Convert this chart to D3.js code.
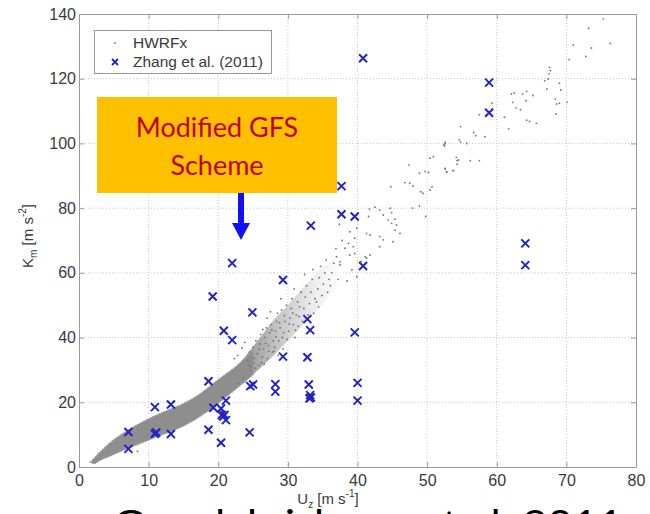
<!DOCTYPE html>
<html><head><meta charset="utf-8">
<script src="https://cdn.jsdelivr.net/npm/d3@7"></script>
<style>
html,body{margin:0;padding:0;background:#fff;}
svg{display:block;}
</style></head>
<body>
<svg id="chart" width="650" height="514"></svg>
<script>
// ---------- data ----------
const xTicks = [0,10,20,30,40,50,60,70,80];
const yTicks = [0,20,40,60,80,100,120,140];
const legendLabels = ["HWRFx","Zhang et al. (2011)"];
const calloutLines = ["Modified GFS","Scheme"];
const citation = "Gopalakrishnan et al. 2011";

// HWRFx dense (solid) cloud: envelope (U_z, lower K_m, upper K_m)
const bandU  = [1.6, 2.2, 3.0, 4.5, 6.0, 7.8, 9.7, 11.5, 13.5, 15.5, 17.5, 19.5, 21.0, 22.5, 24.0, 25.0];
const bandLo = [1.5, 1.0, 2.0, 3.4, 4.8, 6.4, 8.0, 9.6, 11.2, 13.2, 15.8, 18.8, 21.4, 24.0, 26.8, 28.5];
const bandHi = [1.5, 2.8, 4.6, 7.6, 10.0, 12.4, 14.6, 16.4, 18.2, 20.2, 22.8, 26.2, 28.6, 31.0, 34.0, 36.0];

// HWRFx speckled (thinning) part of the cloud: envelope
const speckU  = [23.5, 26.0, 28.0, 30.0, 32.0, 34.0, 36.0, 38.0];
const speckLo = [25.5, 30.5, 34.5, 39.0, 43.5, 48.0, 53.0, 58.0];
const speckHi = [33.0, 40.0, 45.5, 50.0, 55.0, 59.5, 63.5, 67.0];

// HWRFx scattered points [U_z, K_m]
const hwrfPoints = [
 [8.4,4.9],
 [22.3,33.5],[22.8,34.5],[23.4,36.8],[23.8,38.5],[24.2,33],[24.5,35.5],[24.8,31],[25.0,37],[25.2,33.5],[25.4,39],[25.6,35],[25.8,31.5],[26.0,38],[26.1,41],[25.3,30.5],[24.7,29.5],[23.6,27.5],[22.9,25.8],
 [26.3,34],[26.5,36.5],[26.7,40],[26.9,43],[27.1,33.5],[27.2,37.5],[27.4,41.5],[27.6,44],[27.8,35.5],[27.9,39],[26.4,42.5],[27.0,46],[26.6,31.8],[27.5,48],
 [26.2,32.2],[26.8,38.2],[27.3,35.8],[27.7,42.3],[25.9,36.4],[25.1,32.1],[24.4,31.3],[24.9,33.8],
 [28.1,37],[28.2,42],[28.4,45],[28.5,47.5],[28.7,39],[28.9,43],[29.1,48.5],[29.3,36.5],[29.4,41.5],[29.6,45],[29.8,50],[29.9,39.5],[28.6,34.5],[29.0,52],
 [28.3,40.2],[28.8,44.6],[29.2,40.0],[29.5,46.8],[28.0,35.8],
 [30.1,42],[30.3,46],[30.5,49],[30.6,52],[30.8,44],[31.0,40],[31.2,47],[31.4,51],[31.5,43.5],[31.7,49.5],[31.9,54],[30.9,55],
 [30.2,44.2],[30.7,47.6],[31.1,42.3],[31.6,46.5],
 [32.1,45],[32.3,49],[32.5,52.5],[32.7,56],[32.9,47],[33.1,50.5],[33.3,54],[33.5,58],[33.7,47.5],[33.9,52],[32.4,59.5],[33.6,61],
 [34.1,51],[34.3,55],[34.5,58.5],[34.7,62],[34.9,53],[35.1,56.5],[35.3,60],[35.5,64],[35.7,54],[35.9,58],[34.4,49.5],
 [36.1,56],[36.3,60],[36.6,63],[36.9,67.5],[37.2,58],[37.5,62.5],[37.8,70],[37.4,75],[37.0,65.0],[37.5,63.4],
 [39.9,58.8],[39.2,60.9],[38.5,57.5],[40.5,63.5],
 [41.7,79.7],[42.5,80.3],[43.2,79.4],[43.7,77.9],[44.7,80.0],[44.9,78.6],[44.4,76.3],[45.4,76.6],[45.6,74.8],[45.4,73.2],[46.1,72.2],[45.1,69.6],[43.2,71.2],[43.7,70.2],[41.8,71.7],[41.3,72.2],[43.2,68.1],[39.9,73.8],[39.6,70.7],[38.9,72.7],[38.7,69.1],[39.4,68.1],[38.2,67.6],[41.8,65.5],[41.3,64.5],[38.9,65.5],[39.6,66.0],[41.1,65.0],[41.6,77.4],[44.9,75.3],
 [47.9,80.0],[48.9,80.7],[49.8,77.4],[44.8,86.6],[46.8,87.9],[47.5,87.7],[48.0,86.8],[49.1,85.1],[49.4,84.6],[50.4,85.6],[50.7,86.6],[47.4,93.3],[48.9,90.8],[49.7,91.3],[50.2,91.0],[50.4,95.4],[50.9,95.9],[52.6,92.3],[52.8,91.3],[53.8,91.6],[52.6,100.0],[52.5,99.2],[54.5,94.9],
 [75.3,138.5],[73.2,135.6],[76.3,130.9],[71.0,130.4],[73.6,129.5],[70.4,125.9],[72.8,126.9],[67.6,123.5],[67.7,122.5],[67.5,121.5],[67.4,119.9],[66.9,119.4],[67.2,116.8],[69.0,118.6],[69.2,116.5],[68.4,113.7],[68.6,112.2],[69.0,112.4],[70.1,112.7],[68.5,109.1],
 [62.1,115.3],[62.5,115.6],[63.7,115.3],[64.3,116.1],[65.2,114.8],[64.2,113.2],[62.3,112.7],[62.8,111.0],[63.4,110.4],[61.1,108.1],[64.3,107.2],[64.7,106.8],[65.7,106.2],[61.7,104.5],[59.3,112.4],[59.3,110.6],[57.5,108.9],[58.3,102.1],[56.7,103.4],[57.0,102.4],
 [54.8,105.2],[54.6,101.1],[54.8,100.4],[55.7,100.0],[52.6,100.4],[52.4,99.6],[54.2,95.7],[54.3,94.7],[54.3,93.6],[56.2,94.7],[57.5,94.7],[52.6,92.1],[52.8,91.1],[53.7,91.6]
];

// Zhang et al. (2011) observations
const zhangU = [7.1, 7.1, 10.9, 10.9, 11.1, 13.2, 13.2, 18.6, 18.6, 19.2, 19.3, 20.4, 20.4, 20.5, 20.7, 20.9, 21.1, 21.1, 20.8, 22.0, 22.0, 24.5, 24.6, 25.0, 24.9, 28.2, 28.2, 29.3, 29.3, 32.8, 33.2, 32.8, 33.0, 33.2, 33.1, 33.3, 33.3, 37.7, 37.7, 39.6, 39.6, 40.0, 40.0, 40.8, 40.8, 58.9, 58.9, 64.1, 64.1];
const zhangK = [10.8, 5.6, 18.5, 10.3, 10.7, 19.3, 10.2, 26.5, 11.5, 52.7, 18.3, 7.5, 18.1, 16.1, 15.6, 16.1, 14.5, 20.5, 42.1, 39.2, 63.0, 10.7, 25.0, 25.5, 47.8, 25.6, 23.3, 34.1, 57.8, 45.7, 42.3, 33.9, 25.5, 22.2, 21.2, 21.5, 74.6, 86.8, 78.1, 77.4, 41.6, 26.0, 20.5, 126.3, 62.1, 118.8, 109.5, 69.1, 62.4];

// ---------- drawing ----------
const svg = d3.select("#chart");
const L = 79, R = 636, T = 14, B = 467;
const x = d3.scaleLinear().domain([0,80]).range([L,R]);
const y = d3.scaleLinear().domain([0,140]).range([B,T]);
const font = "'Liberation Sans', Arial, sans-serif";
const axisCol = "#9a9a9a";
const textCol = "#3a3a3a";

// gradient for the thinning part of the cloud
const defs = svg.append("defs");
const grad = defs.append("linearGradient").attr("id", "fade")
  .attr("gradientUnits", "userSpaceOnUse")
  .attr("x1", x(23.5)).attr("x2", x(38)).attr("y1", 0).attr("y2", 0);
grad.append("stop").attr("offset", 0).attr("stop-color", "#949494");
grad.append("stop").attr("offset", 0.35).attr("stop-color", "#c4c4c4");
grad.append("stop").attr("offset", 0.7).attr("stop-color", "#ececec");
grad.append("stop").attr("offset", 1).attr("stop-color", "#ffffff");

// grid
const grid = svg.append("g");
grid.selectAll("line.gx").data(xTicks.slice(1,-1)).join("line")
  .attr("x1", d=>x(d)).attr("x2", d=>x(d)).attr("y1", T).attr("y2", B)
  .attr("stroke", "#c8c8c8").attr("stroke-width", 1).attr("stroke-dasharray", "1,2");
grid.selectAll("line.gy").data(yTicks.slice(1,-1)).join("line")
  .attr("y1", d=>y(d)).attr("y2", d=>y(d)).attr("x1", L).attr("x2", R)
  .attr("stroke", "#c8c8c8").attr("stroke-width", 1).attr("stroke-dasharray", "1,2");

// HWRFx thinning cloud
const speck = speckU.map((u,i)=>({u, lo: speckLo[i], hi: speckHi[i]}));
svg.append("path").datum(speck)
  .attr("d", d3.area().x(d=>x(d.u)).y0(d=>y(d.lo)).y1(d=>y(d.hi)).curve(d3.curveCatmullRom))
  .attr("fill", "url(#fade)");

// HWRFx dense cloud
const band = bandU.map((u,i)=>({u, lo: bandLo[i], hi: bandHi[i]}));
svg.append("path").datum(band)
  .attr("d", d3.area().x(d=>x(d.u)).y0(d=>y(d.lo)).y1(d=>y(d.hi)).curve(d3.curveCatmullRom))
  .attr("fill", "#8e8e8e").attr("stroke", "#a0a0a0").attr("stroke-width", 1.2)
  .attr("stroke-dasharray", "1.5,1");

// HWRFx scattered points
svg.append("g").selectAll("circle").data(hwrfPoints).join("circle")
  .attr("cx", d=>x(d[0])).attr("cy", d=>y(d[1])).attr("r", 0.95)
  .attr("fill", "#7a7a7a");

// axes (MATLAB-style inward ticks)
function styleAxis(g){
  g.select(".domain").attr("stroke", axisCol);
  g.selectAll(".tick line").attr("stroke", axisCol);
  g.selectAll(".tick text").attr("fill", textCol).attr("font-family", font).attr("font-size", 16);
}
svg.append("g").attr("transform", `translate(0,${B})`)
  .call(d3.axisBottom(x).tickValues(xTicks).tickSizeInner(-5).tickSizeOuter(0).tickPadding(8).tickFormat(d3.format("d")))
  .call(styleAxis);
svg.append("g").attr("transform", `translate(${L},0)`)
  .call(d3.axisLeft(y).tickValues(yTicks).tickSizeInner(-5).tickSizeOuter(0).tickPadding(3).tickFormat(d3.format("d")))
  .call(styleAxis);
svg.append("g").attr("transform", `translate(0,${T})`)
  .call(d3.axisTop(x).tickValues(xTicks).tickSizeInner(-5).tickSizeOuter(0).tickFormat(""))
  .call(styleAxis);
svg.append("g").attr("transform", `translate(${R},0)`)
  .call(d3.axisRight(y).tickValues(yTicks).tickSizeInner(-5).tickSizeOuter(0).tickFormat(""))
  .call(styleAxis);

// Zhang crosses
const cs = 4;
const zg = svg.append("g");
zhangU.forEach((u,i)=>{
  const cx = x(u), cy = y(zhangK[i]);
  zg.append("path")
    .attr("d", `M${cx-cs},${cy-cs}L${cx+cs},${cy+cs}M${cx-cs},${cy+cs}L${cx+cs},${cy-cs}`)
    .attr("stroke", "#2323c4").attr("stroke-width", 2).attr("fill", "none");
});

// legend
const lg = svg.append("g");
lg.append("rect").attr("x", 94.5).attr("y", 30.5).attr("width", 177).attr("height", 43)
  .attr("fill", "#fff").attr("stroke", "#999").attr("stroke-width", 1);
lg.append("circle").attr("cx", 115).attr("cy", 43).attr("r", 1).attr("fill", "#888");
lg.append("path").attr("d", "M112,59L118,65M112,65L118,59").attr("stroke", "#2323c4").attr("stroke-width", 1.8);
lg.selectAll("text").data(legendLabels).join("text")
  .attr("x", 133).attr("y", (d,i)=>48 + i*19)
  .attr("font-family", font).attr("font-size", 15.5).attr("fill", textCol)
  .text(d=>d);

// axis labels
const yl = svg.append("text").attr("transform", "translate(33,236) rotate(-90)")
  .attr("text-anchor", "middle").attr("font-family", font).attr("font-size", 15).attr("fill", textCol);
yl.append("tspan").text("K");
yl.append("tspan").attr("font-size", 10).attr("dy", 4).text("m");
yl.append("tspan").attr("dy", -4).text(" [m s");
yl.append("tspan").attr("font-size", 10).attr("dy", -7).text("-2");
yl.append("tspan").attr("dy", 7).text("]");

const xl = svg.append("text").attr("x", 328).attr("y", 504)
  .attr("text-anchor", "middle").attr("font-family", font).attr("font-size", 15).attr("fill", textCol);
xl.append("tspan").text("U");
xl.append("tspan").attr("font-size", 10).attr("dy", 4).text("z");
xl.append("tspan").attr("dy", -4).text(" [m s");
xl.append("tspan").attr("font-size", 10).attr("dy", -7).text("-1");
xl.append("tspan").attr("dy", 7).text("]");

// callout box
svg.append("rect").attr("x", 97).attr("y", 97).attr("width", 240).attr("height", 96).attr("fill", "#ffc000");
svg.append("g").selectAll("text").data(calloutLines).join("text")
  .attr("x", 217).attr("y", (d,i)=>137 + i*38)
  .attr("text-anchor", "middle").attr("font-family", "Lato, 'Open Sans', sans-serif")
  .attr("font-size", 27).attr("fill", "#c00000").text(d=>d);

// arrow
svg.append("path")
  .attr("d", "M238,193L244,193L244,223L250,223L241,240L232,223L238,223Z")
  .attr("fill", "#1010f0");

// citation (partly outside the window, as in the reference)
svg.append("text").attr("x", 113).attr("y", 538)
  .attr("font-family", "Lato, 'Open Sans', sans-serif").attr("font-size", 38).attr("fill", "#000")
  .attr("textLength", 510).attr("lengthAdjust", "spacingAndGlyphs")
  .text(citation);
</script>
</body></html>
